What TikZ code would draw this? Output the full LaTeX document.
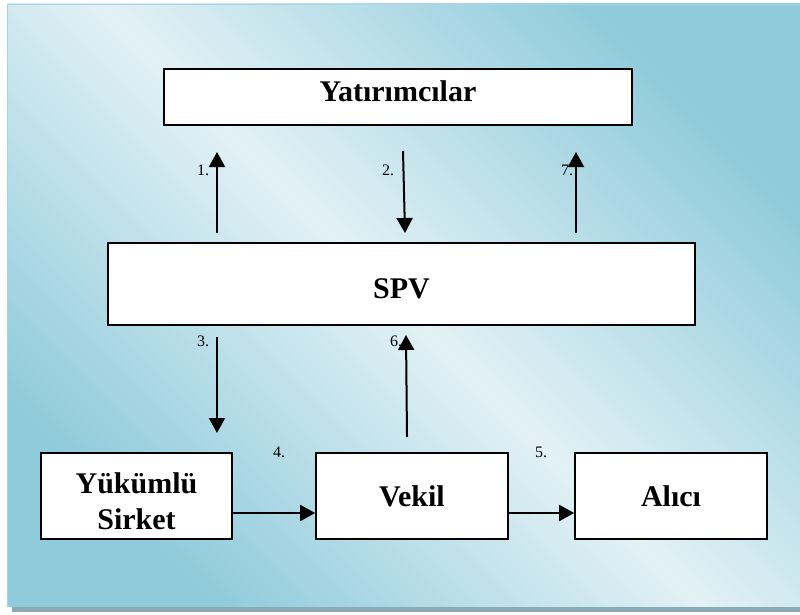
\documentclass[tikz,border=0pt]{standalone}
\usepackage{fontspec}
\setmainfont{Liberation Serif}
\usetikzlibrary{arrows.meta,calc}
\definecolor{panelDark}{RGB}{143,203,219}
\definecolor{panelLight}{RGB}{226,241,245}
\definecolor{panelEdge}{RGB}{165,214,226}
\definecolor{shadowGray}{RGB}{138,170,180}
\begin{document}
\begin{tikzpicture}[x=1pt,y=-1pt,
  box/.style={draw=black, line width=1.6pt, fill=white, align=center, inner sep=0pt,
    font=\bfseries\fontsize{30}{36}\selectfont},
  flow/.style={line width=2pt, -{Triangle[length=15pt,width=16pt]}},
  num/.style={font=\fontsize{16}{18}\selectfont, inner sep=0pt}]
\useasboundingbox (0,0) rectangle (800,615);
% panel with drop shadow
\fill[shadowGray] (12,600) rectangle (800,612);
\shade[top color=panelDark, bottom color=panelDark, middle color=panelLight, shading angle=-45]
  (7,4) rectangle (800,606);
\draw[panelEdge, line width=1pt] (800,4.5) -- (7.5,4.5) -- (7.5,606);

% boxes
\node[box, minimum width=468pt, minimum height=56pt, text height=20pt, text depth=10pt] (inv) at (398,97) {Yatırımcılar};
\node[box, minimum width=587pt, minimum height=82pt, text height=28pt, text depth=0pt] (spv) at (401.5,284) {SPV};
\node[box, minimum width=191pt, minimum height=86pt, text height=50pt, text depth=21pt] (obl) at (136.5,496)
  {\begin{tabular}{@{}c@{}}Yükümlü\\Sirket\end{tabular}};
\node[box, minimum width=192pt, minimum height=86pt] (agent) at (412,496) {Vekil};
\node[box, minimum width=192pt, minimum height=86pt] (buyer) at (671,496) {Alıcı};

% free ends of the vertical arrows
\coordinate (a1s) at (217,233); \coordinate (a1e) at (217,152);
\coordinate (a2s) at (403,151); \coordinate (a2e) at (405,233);
\coordinate (a7s) at (576,233); \coordinate (a7e) at (576,152);
\coordinate (a3s) at (217,337); \coordinate (a3e) at (217,433);
\coordinate (a6s) at (407,437); \coordinate (a6e) at (406,335);

\draw[flow] (a1s) -- (a1e);
\draw[flow] (a2s) -- (a2e);
\draw[flow] (a7s) -- (a7e);
\draw[flow] (a3s) -- (a3e);
\draw[flow] (a6s) -- (a6e);
\draw[flow] ($(obl.east)+(0,17)$) -- ($(agent.west)+(0,17)$);
\draw[flow] ($(agent.east)+(0,17)$) -- ($(buyer.west)+(0,17)$);

% step numbers
\node[num] (n1) at (203,170) {1.};
\node[num] (n2) at (388,170) {2.};
\node[num] (n7) at (567,170) {7.};
\node[num] (n3) at (203,341) {3.};
\node[num] (n6) at (396,341) {6.};
\node[num] (n4) at (279,452) {4.};
\node[num] (n5) at (541,452) {5.};
\end{tikzpicture}
\end{document}
